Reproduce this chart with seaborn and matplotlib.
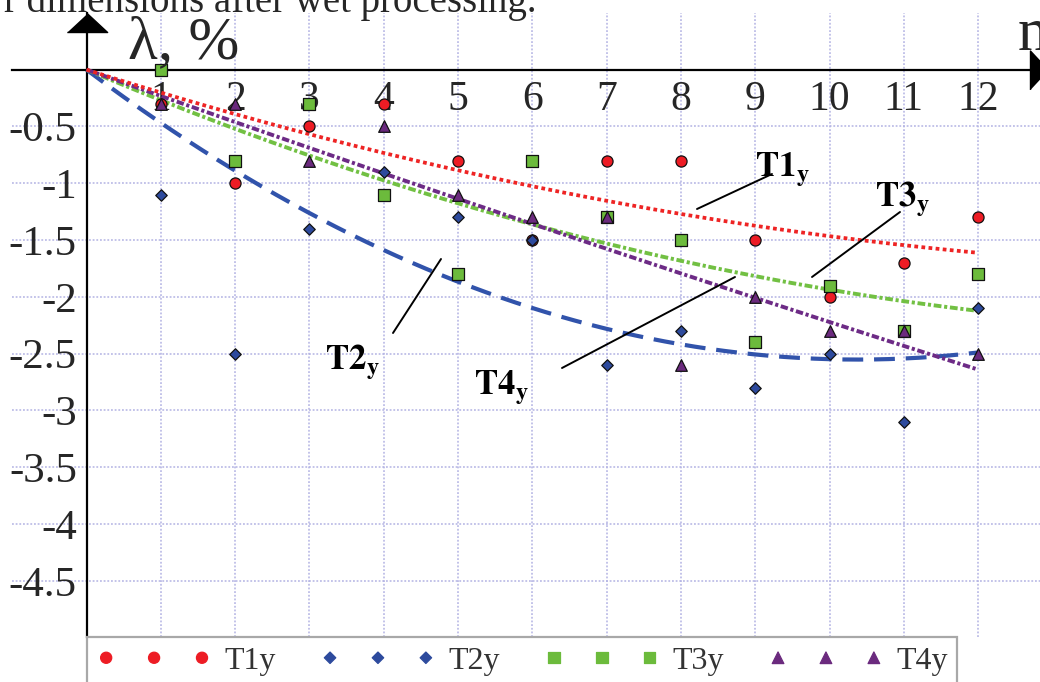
import numpy as np
import pandas as pd
import matplotlib
matplotlib.use("Agg")
import matplotlib.pyplot as plt
import seaborn as sns

# ---------------- data ----------------
n_cycles = [1, 2, 3, 4, 5, 6, 7, 8, 9, 10, 11, 12]
t1_y = [-0.3, -1.0, -0.5, -0.3, -0.8, -1.5, -0.8, -0.8, -1.5, -2.0, -1.7, -1.3]
t2_y = [-1.1, -2.5, -1.4, -0.9, -1.3, -1.5, -2.6, -2.3, -2.8, -2.5, -3.1, -2.1]
t3_y = [0.0, -0.8, -0.3, -1.1, -1.8, -0.8, -1.3, -1.5, -2.4, -1.9, -2.3, -1.8]
t4_y = [-0.3, -0.3, -0.8, -0.5, -1.1, -1.3, -1.3, -2.6, -2.0, -2.3, -2.3, -2.5]
series_names = ["T1y", "T2y", "T3y", "T4y"]
annot_labels = [r"$\mathbf{T1_y}$", r"$\mathbf{T2_y}$", r"$\mathbf{T3_y}$", r"$\mathbf{T4_y}$"]
x_ticks = [1, 2, 3, 4, 5, 6, 7, 8, 9, 10, 11, 12]
y_ticks = [-4.5, -4.0, -3.5, -3.0, -2.5, -2.0, -1.5, -1.0, -0.5]
y_tick_labels = ["-4.5", "-4", "-3.5", "-3", "-2.5", "-2", "-1.5", "-1", "-0.5"]
caption_text = "r dimensions after wet processing."

# ---------------- styling ----------------
sns.set_theme(style="white")
plt.rcParams["font.family"] = ["Liberation Serif", "DejaVu Serif"]
plt.rcParams["mathtext.fontset"] = "stix"

W, H = 1040, 682
fig = plt.figure(figsize=(W / 100, H / 100), dpi=100)
fig.patch.set_facecolor("white")

# axes spanning pixel box x:12..1040, y:13..637 (top-origin)
ax = fig.add_axes([12 / W, (H - 637) / H, (1040 - 12) / W, (637 - 13) / H])
ax.set_facecolor("white")
ax.set_xlim(-1.003, 12.833)
ax.set_ylim(-4.994, 0.499)

# spines through origin
ax.spines["left"].set_position(("data", 0))
ax.spines["bottom"].set_position(("data", 0))
ax.spines["top"].set_visible(False)
ax.spines["right"].set_visible(False)
for s in ("left", "bottom"):
    ax.spines[s].set_color("black")
    ax.spines[s].set_linewidth(1.6)
    ax.spines[s].set_zorder(1.5)

ax.set_xticks(x_ticks)
ax.set_xticklabels([str(v) for v in x_ticks])
ax.set_yticks(y_ticks)
ax.set_yticklabels(y_tick_labels)
ax.tick_params(axis="both", direction="inout", length=8, width=1.3, color="black")
ax.tick_params(axis="x", labelsize=30, pad=4)
ax.tick_params(axis="y", labelsize=31, pad=3)
ax.grid(True, color="#b3b3e3", linestyle=(0, (1.2, 1.2)), linewidth=1.1)
ax.set_axisbelow(True)

# arrow heads on the axes
ax.plot(0, 0.334, marker=[(-1, 0), (1, 0), (0, 0.93)], markersize=29,
        color="black", clip_on=False, zorder=5)
ax.plot(12.7, 0, marker=[(0, -1), (0, 1), (0.93, 0)], markersize=28,
        color="black", clip_on=False, zorder=5)

# ---------------- trend lines (quadratic through origin, fitted to data) ----------------
n_arr = np.array(n_cycles, dtype=float)
xs = np.linspace(0, 12, 240)
line_specs = [
    (t2_y, "#3153ab", 3.0, (5.0, 2.6)),
    (t3_y, "#72c043", 2.8, (2.0, 0.7, 0.8, 0.7)),
    (t4_y, "#6d2b86", 2.8, (1.9, 0.7, 0.8, 0.7)),
    (t1_y, "#ee2424", 2.7, (1.0, 0.9)),
]
for yv, col, lw, dash in line_specs:
    A = np.column_stack([n_arr, n_arr ** 2])
    coef, *_ = np.linalg.lstsq(A, np.array(yv), rcond=None)
    ys = coef[0] * xs + coef[1] * xs ** 2
    sns.lineplot(x=xs, y=ys, ax=ax, color=col, linewidth=lw, legend=False,
                 sort=False, estimator=None)
    ax.lines[-1].set_dashes(dash)
    ax.lines[-1].set_dash_capstyle("butt")
    ax.lines[-1].set_zorder(2)

# ---------------- scatter points ----------------
point_specs = [
    (t1_y, "#ed1c24", "o", 64),
    (t2_y, "#2d4a9d", "D", 34),
    (t3_y, "#6cbb3c", "s", 64),
    (t4_y, "#6b2a7e", "^", 70),
]
for name, (yv, col, mk, sz) in zip(series_names, point_specs):
    df = pd.DataFrame({"n": n_cycles, "lam": yv})
    sns.scatterplot(data=df, x="n", y="lam", ax=ax, color=col, marker=mk, s=sz,
                    edgecolor="#111111", linewidth=0.9, label=name, zorder=3,
                    clip_on=False)

ax.set_xlabel("")
ax.set_ylabel("")

# ---------------- legend (below the plot, cut by the image edge) ----------------
handles, labels = ax.get_legend_handles_labels()
if ax.get_legend() is not None:
    ax.get_legend().remove()
leg = fig.legend(handles, labels, loc="upper left",
                 bbox_to_anchor=(87 / W, (H - 637) / H), bbox_transform=fig.transFigure,
                 ncol=4, scatterpoints=3, scatteryoffsets=[0.5], handlelength=3.6,
                 handletextpad=0.4, columnspacing=1.4, borderpad=0.3, borderaxespad=0,
                 fontsize=23, frameon=True, fancybox=False, framealpha=1,
                 edgecolor="#a8a8a8", labelcolor="#333333", markerscale=1.0)
leg.get_frame().set_linewidth(1.6)
for h in leg.legend_handles:
    h.set_edgecolor(h.get_facecolor())

# ---------------- text: axis labels, caption, annotations ----------------
def fpx(x, y):
    return x / W, 1 - y / H

fig.text(*fpx(128, 58), "λ, %", fontsize=44, va="baseline", ha="left")
fig.text(*fpx(1018, 50), "n", fontsize=44, va="baseline", ha="left")
fig.text(*fpx(537, 12), caption_text, fontsize=28, va="baseline", ha="right")

annot_pos = [(755, 177), (325, 370), (875, 207), (474, 395)]
leader_lines = [((697, 209), (772, 174)), ((393, 333), (441, 259)),
                ((812, 277), (900, 212)), ((562, 368), (735, 277))]
for lab, (tx, ty), (p0, p1) in zip(annot_labels, annot_pos, leader_lines):
    fig.text(*fpx(tx, ty), lab, fontsize=25, va="baseline", ha="left", color="black")
    fig.add_artist(plt.Line2D([p0[0] / W, p1[0] / W], [1 - p0[1] / H, 1 - p1[1] / H],
                              transform=fig.transFigure, color="black", linewidth=1.4))

fig.savefig("out.png", dpi=100, facecolor="white")
